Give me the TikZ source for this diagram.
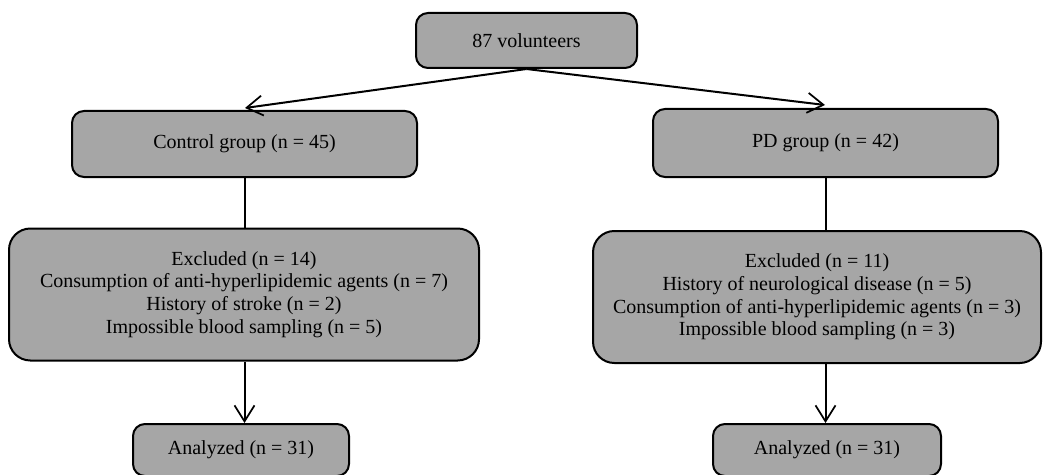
\documentclass[tikz,border=0pt]{standalone}
\usepackage{fontspec}
\setmainfont{Liberation Serif}
\usetikzlibrary{arrows.meta}
\definecolor{boxgray}{RGB}{166,166,166}
\tikzset{
  box/.style={draw=black, line width=1.5pt, fill=boxgray, rounded corners=9pt,
    align=center, inner sep=0pt,
    font=\fontsize{15pt}{17pt}\selectfont},
  conn/.style={line width=1.5pt},
  arr/.style={line width=1.5pt, -{Straight Barb[length=12pt,width=15pt,line width=1.3pt]}},
}
\begin{document}
\begin{tikzpicture}[x=0.75pt,y=-0.75pt]
\useasboundingbox (0,0) rectangle (1044,474);
\node[box, minimum width=221*0.75pt, minimum height=55*0.75pt] (top) at (526.5,40.5) {87 volunteers};
\node[box, minimum width=345*0.75pt, minimum height=66*0.75pt] (ctrl) at (244.5,144) {Control group (n = 45)};
\node[box, minimum width=345*0.75pt, minimum height=68*0.75pt] (pd) at (825.5,143) {PD group (n = 42)};
\node[box, rounded corners=16pt, minimum width=470*0.75pt, minimum height=132*0.75pt] (exl) at (244,294.5)
  {Excluded (n = 14)\\Consumption of anti-hyperlipidemic agents (n = 7)\\History of stroke (n = 2)\\Impossible blood sampling (n = 5)};
\node[box, rounded corners=16pt, minimum width=448*0.75pt, minimum height=132*0.75pt] (exr) at (817,297)
  {Excluded (n = 11)\\History of neurological disease (n = 5)\\Consumption of anti-hyperlipidemic agents (n = 3)\\Impossible blood sampling (n = 3)};
\node[box, minimum width=216*0.75pt, minimum height=52*0.75pt] (anl) at (241,450) {Analyzed (n = 31)};
\node[box, minimum width=228*0.75pt, minimum height=52*0.75pt] (anr) at (827,450) {Analyzed (n = 31)};
\coordinate (lt) at (245,108);
\coordinate (rt) at (825,105);
\draw[arr] (top.south) -- (lt);
\draw[arr] (top.south) -- (rt);
\draw[conn] (ctrl.south) -- (ctrl.south |- exl.north);
\draw[conn] (pd.south) -- (pd.south |- exr.north);
\draw[arr] (ctrl.south |- exl.south) -- (ctrl.south |- anl.north);
\draw[arr] (pd.south |- exr.south) -- (pd.south |- anr.north);
\end{tikzpicture}
\end{document}
